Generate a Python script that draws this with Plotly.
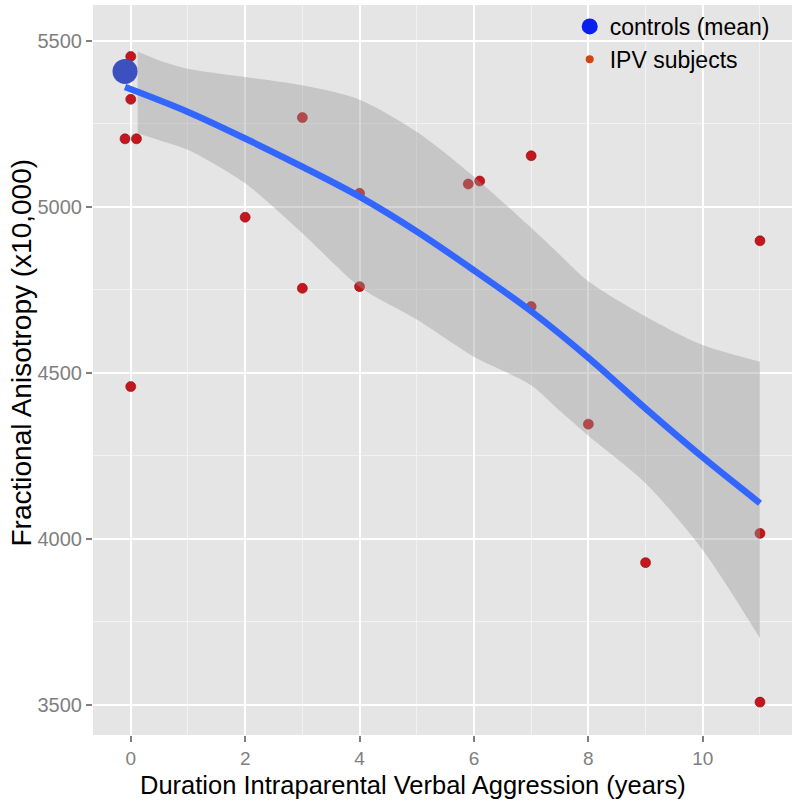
import plotly.graph_objects as go

# IPV subjects (years of verbal aggression, FA x10,000)
ipv_x = [0, 0, -0.1, 0.1, 0, 2, 3, 3, 4, 4, 5.9, 6.1, 7, 7, 8, 9, 11, 11, 11]
ipv_y = [5452, 5323, 5204, 5204, 4458, 4968, 5268, 4754, 5040, 4759, 5068, 5077,
         5153, 4699, 4345, 3928, 4897, 4016, 3508]

# Controls (mean)
ctrl_x = [-0.1]
ctrl_y = [5407]

# Loess fit line
fit_x = [-0.1, 1, 2, 3, 4, 5, 6, 7, 8, 9, 10, 11]
fit_y = [5360, 5285, 5205, 5120, 5030, 4925, 4808, 4685, 4545, 4392, 4245, 4107]

# Confidence band
band_x = [0.12, 0.5, 1, 2, 3, 4, 5, 6, 7, 7.5, 8, 9, 10, 11]
band_hi = [5467, 5440, 5415, 5390, 5365, 5322, 5225, 5090, 4936, 4855, 4775, 4669, 4583, 4533]
band_lo = [5221, 5200, 5171, 5070, 4920, 4759, 4660, 4548, 4462, 4385, 4310, 4167, 3966, 3700]

x_ticks = [0, 2, 4, 6, 8, 10]
y_ticks = [3500, 4000, 4500, 5000, 5500]

FONT = "Liberation Sans, Arial, sans-serif"

fig = go.Figure()

fig.add_trace(go.Scatter(
    x=ipv_x, y=ipv_y, mode="markers",
    marker=dict(size=10, color="#C4161C", line=dict(width=0.6, color="#8A0E0E")),
    showlegend=False, hoverinfo="x+y"))

fig.add_trace(go.Scatter(
    x=band_x, y=band_lo, mode="lines",
    line=dict(width=0, shape="spline", smoothing=0.8),
    showlegend=False, hoverinfo="skip"))
fig.add_trace(go.Scatter(
    x=band_x, y=band_hi, mode="lines", fill="tonexty",
    fillcolor="rgba(153,153,153,0.4)",
    line=dict(width=0, shape="spline", smoothing=0.8),
    showlegend=False, hoverinfo="skip"))

fig.add_trace(go.Scatter(
    x=fit_x, y=fit_y, mode="lines",
    line=dict(color="#3366FF", width=6.5, shape="spline"),
    showlegend=False))

fig.add_trace(go.Scatter(
    x=ctrl_x, y=ctrl_y, mode="markers",
    marker=dict(size=25, color="#3C50C0", line=dict(width=0)),
    showlegend=False))

# legend entries
fig.add_trace(go.Scatter(
    x=[None], y=[None], mode="markers", name="controls (mean)",
    marker=dict(size=18, color="#0A1EF0"), legendgroup="a"))
fig.add_trace(go.Scatter(
    x=[None], y=[None], mode="markers", name="IPV subjects",
    marker=dict(size=8, color="#D04518"), legendgroup="b"))

fig.update_layout(
    width=800, height=805,
    margin=dict(l=93, r=8, t=5, b=70),
    paper_bgcolor="white",
    plot_bgcolor="#E5E5E5",
    font=dict(family=FONT),
    legend=dict(x=0.682, y=1.0, xanchor="left", yanchor="top",
                bgcolor="rgba(0,0,0,0)", font=dict(size=23, color="black"),
                tracegroupgap=0, traceorder="grouped"),
    xaxis=dict(
        range=[-0.66, 11.56], tickvals=x_ticks, ticktext=[str(v) for v in x_ticks],
        showgrid=True, gridcolor="white", gridwidth=2, zeroline=False,
        minor=dict(dtick=1, tick0=0, showgrid=True, gridcolor="#F2F2F2", gridwidth=1),
        ticks="outside", ticklen=6, tickwidth=1.5, tickcolor="#7F7F7F",
        tickfont=dict(size=19, color="#7F7F7F"),
        automargin=False, showline=False),
    yaxis=dict(
        range=[3409, 5607], tickvals=y_ticks, ticktext=[str(v) for v in y_ticks],
        showgrid=True, gridcolor="white", gridwidth=2, zeroline=False,
        minor=dict(dtick=250, tick0=3500, showgrid=True, gridcolor="#F2F2F2", gridwidth=1),
        ticks="outside", ticklen=6, tickwidth=1.5, tickcolor="#7F7F7F",
        tickfont=dict(size=20, color="#7F7F7F"),
        automargin=False, showline=False),
    annotations=[
        dict(text="Duration Intraparental Verbal Aggression (years)",
             xref="paper", yref="paper", x=0.458, y=-0.0685,
             xanchor="center", yanchor="middle", showarrow=False,
             font=dict(size=25.5, color="black")),
        dict(text="Fractional Anisotropy (x10,000)",
             xref="paper", yref="paper", x=-0.103, y=0.524, textangle=-90,
             xanchor="center", yanchor="middle", showarrow=False,
             font=dict(size=28, color="black")),
    ],
)

fig.write_html(
    "out.html",
    config={"displayModeBar": False},
    post_script="document.body.style.margin='0';document.body.style.overflow='hidden';",
)
